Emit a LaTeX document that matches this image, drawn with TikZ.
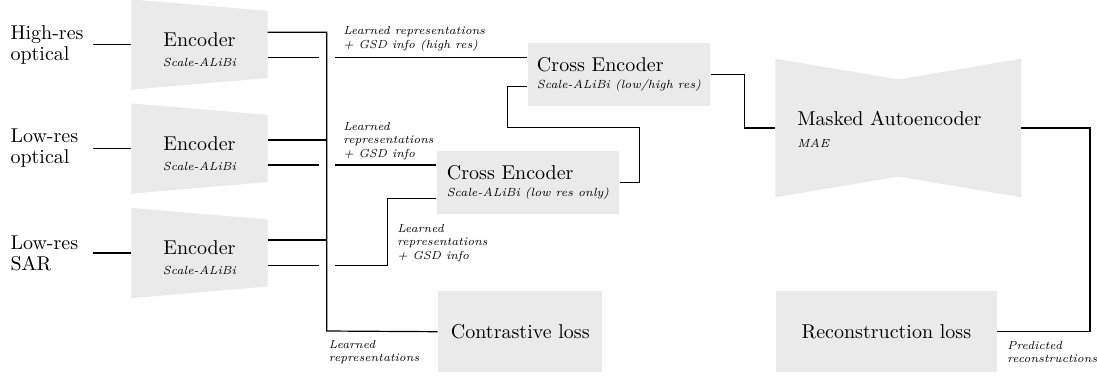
\documentclass[tikz,border=0pt]{standalone}
\usepackage{amsmath, amsfonts}
\usetikzlibrary{positioning, backgrounds}
\usepackage{xcolor}
\definecolor{grigio}{HTML}{EAEAEA}
\newcommand{\sottotitolo}[1]{{\fontsize{5.9}{7}\selectfont\itshape #1}}

\begin{document}
\begin{tikzpicture}[x=0.5pt, y=-0.5pt, line width=0.6pt,
			lbl/.style={align=left, text width=38pt, inner sep=3pt, anchor=west, font=\fontsize{10}{10.5}\selectfont},
			enc/.style={minimum width=67.5pt, minimum height=44.5pt, inner sep=0pt, align=center},
			cross/.style={fill=grigio, minimum width=91pt, minimum height=31.5pt, align=left},
			mae/.style={minimum width=122.35pt, minimum height=68.7pt, text width=101pt, inner xsep=10.65pt, align=left},
			loss/.style={fill=grigio, minimum height=40.6pt},
			nota/.style={align=left, inner sep=0pt, anchor=west, font=\fontsize{5.8}{6.8}\selectfont\itshape}]
			
			\useasboundingbox (0,0) rectangle (1097,377);
			
			% Ingressi
			\node[lbl] (in1) at (4,44.5) {High-res\\optical};
			\node[lbl] (in2) at (4,148.5) {Low-res\\optical};
			\node[lbl] (in3) at (4,253) {Low-res\\SAR};
			
			% Encoder
			\node[enc] (enc1) at (199.5,49.5) {Encoder\\[-2pt]\sottotitolo{Scale-ALiBi}};
			\node[enc] (enc2) at (199.5,153.5) {Encoder\\[-2pt]\sottotitolo{Scale-ALiBi}};
			\node[enc] (enc3) at (199.5,258) {Encoder\\[-2pt]\sottotitolo{Scale-ALiBi}};
			
			% Cross encoder, MAE e perdite
			\node[cross] (ce1) at (619,74.3) {Cross Encoder\\[-3.5pt]\sottotitolo{Scale-ALiBi (low/high res)}};
			\node[cross] (ce2) at (528,182.2) {Cross Encoder\\[-3.5pt]\sottotitolo{Scale-ALiBi (low res only)}};
			\node[mae] (mae) at (898.35,129) {Masked Autoencoder\\[-1pt]\sottotitolo{MAE}};
			\node[loss, minimum width=82pt] (closs) at (520.3,331.7) {Contrastive loss};
			\node[loss, minimum width=110.35pt] (rloss) at (886.35,331.65) {Reconstruction loss};
			
			% Forme di sfondo
			\begin{scope}[on background layer]
				\foreach \i in {1,2,3}
				\fill[grigio] ([yshift=2.5pt]enc\i.north west) -- ([yshift=-3.25pt]enc\i.north east) -- ([yshift=8.25pt]enc\i.south east) -- ([yshift=2.5pt]enc\i.south west) -- cycle;
				\fill[grigio] ([yshift=0.5pt]mae.north west) -- ([yshift=-9.85pt]mae.north) -- ([yshift=0.5pt]mae.north east) -- ([yshift=0.5pt]mae.south east) -- ([yshift=10.85pt]mae.south) -- ([yshift=0.5pt]mae.south west) -- cycle;
			\end{scope}
			
			% Etichette
			\node[nota] (n1) at (342.7,39) {Learned representations\\+ GSD info (high res)};
			\node[nota] (n2) at (342.7,141) {Learned\\representations\\+ GSD info};
			\node[nota] (n3) at (396.7,243) {Learned\\representations\\+ GSD info};
			\node[nota] (n4) at (328.3,352) {Learned\\representations};
			\node[nota] (n5) at (1006.7,352) {Predicted\\reconstructions};
			
			% --- Collegamenti ---
			\coordinate (bus) at (326.7,331);
			\coordinate (gapL) at (319,0);
			\coordinate (gapR) at (335,0);
			\coordinate (k3) at (387.5,0);
			
			\draw (in1.east) -- (in1.east -| enc1.west);
			\draw (in2.east) -- (in2.east -| enc2.west);
			\draw (in3.east) -- (in3.east -| enc3.west);
			
			% Uscite superiori verso il bus
			\draw ([yshift=8.6pt]enc1.east) -| (bus) -- (closs.west);
			\draw ([yshift=6.75pt]enc2.east) coordinate (a2) -- (a2 -| bus);
			\draw ([yshift=9pt]enc3.east) coordinate (a3) -- (a3 -| bus);
			
			% Uscite inferiori (scavalcano il bus)
			\draw ([yshift=-4pt]enc1.east) coordinate (b1) -- (b1 -| gapL);
			\draw (b1 -| gapR) -- (b1 -| ce1.west);
			\draw ([yshift=-5.75pt]enc2.east) coordinate (b2) -- (b2 -| gapL);
			\draw (b2 -| gapR) -- (b2 -| ce2.west);
			\draw ([yshift=-3.75pt]enc3.east) coordinate (b3) -- (b3 -| gapL);
			\draw (b3 -| gapR) -- (b3 -| k3) |- ([yshift=-8pt]ce2.west);
			
			% Da cross encoder
			\draw (ce2.east) -- ++(20,0) |- (507.3,127.7) |- ([yshift=-6.2pt]ce1.west);
			\draw (ce1.east) -- ++(34,0) |- ([yshift=0.5pt]mae.west);
			\draw ([yshift=0.5pt]mae.east) -- ++(68.6,0) |- (rloss.east);
		\end{tikzpicture}
\end{document}
